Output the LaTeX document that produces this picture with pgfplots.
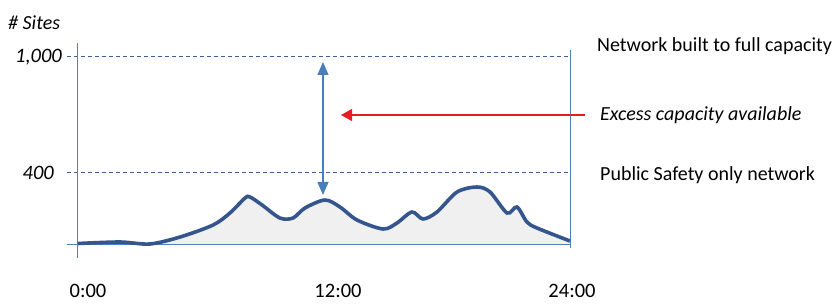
\documentclass[border=0pt]{standalone}
\usepackage{pgfplots}
\pgfplotsset{compat=1.18}
\usepackage{fontspec}
\setmainfont{Carlito}
\usetikzlibrary{arrows.meta}
\definecolor{curve}{RGB}{52,86,140}
\definecolor{axisblue}{RGB}{79,129,189}
\definecolor{dashblue}{RGB}{62,95,148}
\definecolor{arrowblue}{RGB}{74,126,187}
\definecolor{arrowred}{RGB}{232,28,36}
\pgfplotstableread{
h v
0 0.5
2.05 2
3.5 0
4.98 7
6.59 19
7.41 31
8.15 46
8.39 47
8.98 39
9.85 26
10.49 26
11.07 36
12.05 44
12.78 37
13.61 24
14.88 15
15.56 21
16.29 32
16.83 25
17.51 32
18.49 52
19.46 57
20.1 52
20.93 31
21.41 37
21.9 22
22.39 16
24 3
}\sites
\begin{document}
\begin{tikzpicture}
\begin{axis}[
  scale only axis, width=492bp, height=215bp,
  xmin=0, xmax=24, ymin=-14, ymax=201,
  axis lines=none, clip=false,
]
% fill and curve
\addplot[fill=black!6, draw=none, smooth, tension=0.5] table[x=h,y=v] {\sites} \closedcycle;
% dashed reference lines
\draw[dashblue, dash pattern=on 4bp off 3bp, line width=1bp] (axis cs:-0.537,187) -- (axis cs:23.9,187);
\draw[dashblue, dash pattern=on 4bp off 3bp, line width=1bp] (axis cs:-0.537,71) -- (axis cs:23.9,71);
% axes
\draw[axisblue, line width=1bp] (axis cs:0,-14) -- (axis cs:0,201);
\draw[axisblue, line width=1bp] (axis cs:-0.537,0) -- (axis cs:24,0);
\draw[axisblue, line width=1bp] (axis cs:24,-4) -- (axis cs:24,194);
\addplot[curve, line width=3.6bp, smooth, tension=0.5] table[x=h,y=v] {\sites};
% arrows
\draw[arrowblue, line width=1.3bp, {Triangle[width=11bp,length=13bp]}-{Triangle[width=11bp,length=13bp]}] (axis cs:11.95,182) -- (axis cs:11.95,49);
\draw[arrowred, line width=1.3bp, -{Triangle[width=12bp,length=11bp]}] (axis cs:24.73,129) -- (axis cs:12.83,129);
% texts
\node[anchor=west, inner sep=0pt, font=\fontsize{20bp}{24bp}\selectfont\itshape] at (axis cs:{(8-78)/20.5},{244-23}) {\# Sites};
\node[anchor=east, inner sep=0pt, font=\fontsize{20.5bp}{24bp}\selectfont\itshape] at (axis cs:{(62-78)/20.5},{244-57}) {1,000};
\node[anchor=east, inner sep=0pt, font=\fontsize{20.5bp}{24bp}\selectfont\itshape] at (axis cs:{(54-78)/20.5},{244-173}) {400};
\node[font=\fontsize{20.5bp}{24bp}\selectfont] at (axis cs:{(88-78)/20.5},{244-291}) {0:00};
\node[font=\fontsize{20.5bp}{24bp}\selectfont] at (axis cs:{(338-78)/20.5},{244-291}) {12:00};
\node[font=\fontsize{20.5bp}{24bp}\selectfont] at (axis cs:{(572-78)/20.5},{244-291}) {24:00};
\node[anchor=west, inner sep=0pt, font=\fontsize{20bp}{24bp}\selectfont] at (axis cs:{(597-78)/20.5},{244-46}) {Network built to full capacity};
\node[anchor=west, inner sep=0pt, font=\fontsize{20bp}{24bp}\selectfont\itshape] at (axis cs:{(600-78)/20.5},{244-115}) {Excess capacity available};
\node[anchor=west, inner sep=0pt, font=\fontsize{20bp}{24bp}\selectfont] at (axis cs:{(600-78)/20.5},{244-175}) {Public Safety only network};
\end{axis}
\pgfresetboundingbox
\path[use as bounding box] ([shift={(-78bp,-46bp)}]current axis.south west) rectangle ([shift={(265bp,43bp)}]current axis.north east);
\end{tikzpicture}
\end{document}
